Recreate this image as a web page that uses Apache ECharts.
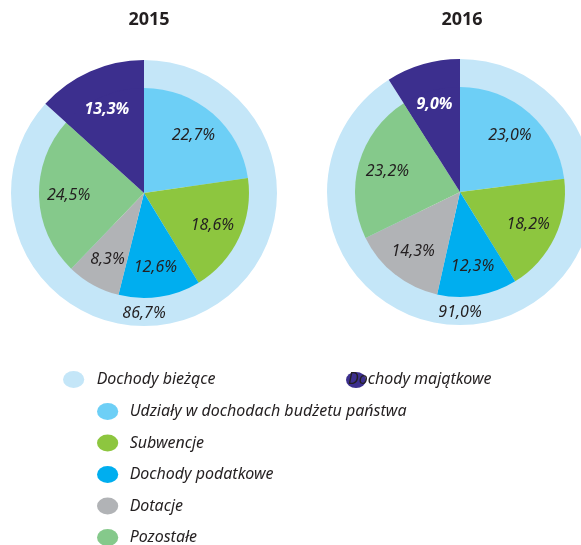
<!DOCTYPE html>
<html lang="pl">
<head>
<meta charset="UTF-8">
<title>Struktura dochodów 2015-2016</title>
<script src="https://cdn.jsdelivr.net/npm/echarts@6/dist/echarts.min.js"></script>
<style>
  html, body { margin: 0; padding: 0; background: #fff; }
  #main { width: 581px; height: 545px; }
</style>
</head>
<body>
<div id="main"></div>
<script>
// dane
const years = ['2015', '2016'];
const groupNames = ['Dochody bieżące', 'Dochody majątkowe'];
const groups2015 = [86.7, 13.3];
const groups2016 = [91.0, 9.0];
const partNames = ['Udziały w dochodach budżetu państwa', 'Subwencje', 'Dochody podatkowe', 'Dotacje', 'Pozostałe'];
const parts2015 = [22.7, 18.6, 12.6, 8.3, 24.5];
const parts2016 = [23.0, 18.2, 12.3, 14.3, 23.2];

const groupColors = ['#c4e6f8', '#3c2f8e'];
const partColors = ['#6dcff6', '#8dc63f', '#00aeef', '#b1b3b6', '#85c98b'];

const FONT = '"Noto Sans", sans-serif';
const TXT = '#231f20';
const R = 133, r = 105;
const centers = [[144, 193], [460, 192]];

function pct(v) {
  return v.toFixed(1).replace('.', ',') + '%';
}

function yearSeries(idx, groups, parts) {
  const c = centers[idx];
  const outerData = groups.map((v, i) => ({ name: groupNames[i], value: v, itemStyle: { color: groupColors[i] } }));
  const innerData = parts.map((v, i) => ({ name: partNames[i], value: v, itemStyle: { color: partColors[i] } }));
  innerData.push({ name: groupNames[1], value: groups[1], itemStyle: { color: groupColors[1] } });
  // same slices, only for the labels (placed further out than 'inside')
  const labelData = parts.map(v => ({ value: v }));
  labelData.push({ value: groups[1], label: { show: false } });

  return [
    {
      type: 'pie',
      center: c,
      radius: [44, R],
      startAngle: 90,
      silent: true,
      animation: false,
      data: outerData,
      label: {
        position: 'inside',
        formatter: p => pct(p.value),
        fontFamily: FONT,
        fontStyle: 'italic',
        fontSize: 16,
        color: TXT
      },
      labelLine: { show: false },
      labelLayout: function (p) {
        if (p.dataIndex === 0) {
          return { x: c[0], y: c[1] + (r + R) / 2 + 1, align: 'center', verticalAlign: 'middle' };
        }
        return {};
      },
      itemStyle: { borderWidth: 0 }
    },
    {
      type: 'pie',
      center: c,
      radius: [0, r],
      startAngle: 90,
      silent: true,
      animation: false,
      data: innerData,
      label: { show: false },
      labelLine: { show: false }
    },
    {
      type: 'pie',
      center: c,
      radius: [40, r],
      startAngle: 90,
      silent: true,
      animation: false,
      data: labelData,
      itemStyle: { color: 'rgba(0,0,0,0)' },
      label: {
        position: 'inside',
        formatter: p => pct(p.value),
        fontFamily: FONT,
        fontStyle: 'italic',
        fontSize: 16,
        color: TXT
      },
      labelLine: { show: false }
    }
  ];
}

// purple label in white bold
function purpleLabel(series) {
  series[0].data[1].label = { color: '#ffffff', fontWeight: 'bold' };
  return series;
}

const ellipse = 'path://M0,8A10,8,0,1,1,20,8A10,8,0,1,1,0,8Z';
const legendText = { fontFamily: FONT, fontStyle: 'italic', fontSize: 16, color: TXT };

const chart = echarts.init(document.getElementById('main'), null, { renderer: 'canvas' });

chart.setOption({
  animation: false,
  title: years.map((y, i) => ({
    text: y,
    left: centers[i][0] + (i === 1 ? -3 : 0),
    top: 6,
    textAlign: 'center',
    textStyle: { fontFamily: FONT, fontWeight: 'bold', fontSize: 18, color: TXT }
  })),
  legend: [
    {
      data: [groupNames[0]],
      left: 58, top: 366,
      icon: ellipse, itemWidth: 36, itemHeight: 17,
      selectedMode: false,
      textStyle: legendText
    },
    {
      data: [groupNames[1]],
      left: 341, top: 367,
      icon: ellipse, itemWidth: 20, itemHeight: 17,
      selectedMode: false,
      formatter: () => ' ',
      textStyle: legendText
    },
    {
      data: [groupNames[1]],
      left: 336, top: 366,
      itemWidth: 2, itemHeight: 2,
      itemStyle: { opacity: 0 },
      selectedMode: false,
      textStyle: legendText
    },
    {
      data: partNames,
      orient: 'vertical',
      left: 92, top: 398,
      height: 160,
      icon: ellipse, itemWidth: 34, itemHeight: 17,
      itemGap: 14.5,
      selectedMode: false,
      textStyle: legendText
    }
  ],
  series: [
    ...purpleLabel(yearSeries(0, groups2015, parts2015)),
    ...purpleLabel(yearSeries(1, groups2016, parts2016))
  ]
});
</script>
</body>
</html>
